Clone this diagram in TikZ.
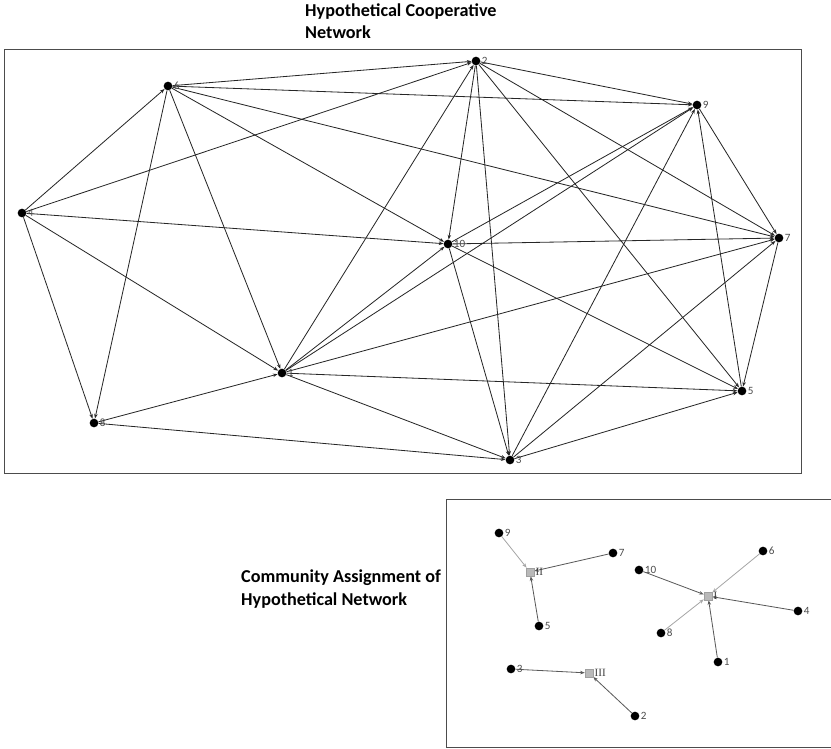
\documentclass[tikz,border=0pt]{standalone}
\usepackage{fontspec}
\setmainfont{Carlito}
\newfontfamily\romanfont{Liberation Serif}
\usetikzlibrary{arrows.meta, positioning, backgrounds}

\begin{document}
\begin{tikzpicture}[
    x=0.03cm, y=-0.03cm,
    dot/.style={circle, fill=black, minimum size=0.26cm, inner sep=0pt},
    com/.style={rectangle, fill=gray!55, draw=gray!75, minimum size=0.24cm, inner sep=0pt},
    lab/.style={font=\fontsize{9.5}{9.5}\selectfont, text=black!70, inner sep=1pt},
    rlab/.style={font=\romanfont\fontsize{9.5}{9.5}\selectfont, text=black!75, inner sep=1pt},
    title/.style={font=\fontsize{15.5}{19}\selectfont\bfseries, align=left, anchor=north west, inner sep=0pt},
    arr/.style={-{Stealth[length=4pt, width=3pt]}, line width=0.7pt, black!85},
    darr/.style={-{Stealth[length=4pt, width=3pt]}, line width=0.7pt, black!65},
    larr/.style={-{Stealth[length=4pt, width=3pt]}, line width=0.7pt, black!35}
]
\useasboundingbox (0,0) rectangle (831,749);

% Cooperative network
\node[title] (toptitle) at (305,3) {Hypothetical Cooperative\\Network};
\draw[black!70, line width=0.8pt] (4,49) rectangle (801,473);

\node[dot, label={[lab]right:1}]  (n1)  at (282,373) {};
\node[dot, label={[lab]right:2}]  (n2)  at (476,61) {};
\node[dot, label={[lab]right:3}]  (n3)  at (510,460) {};
\node[dot, label={[lab]right:4}]  (n4)  at (22,213) {};
\node[dot, label={[lab]right:5}]  (n5)  at (742,391) {};
\node[dot, label={[lab]right:6}]  (n6)  at (168,86) {};
\node[dot, label={[lab]right:7}]  (n7)  at (779,238) {};
\node[dot, label={[lab]right:8}]  (n8)  at (94,423) {};
\node[dot, label={[lab]right:9}]  (n9)  at (697,105) {};
\node[dot, label={[lab]right:10}] (n10) at (448,244) {};

% Ties
\begin{scope}[on background layer]
\foreach \i/\j in {n4/n6, n4/n2, n4/n10, n4/n8, n4/n1,
                   n6/n2, n6/n9, n6/n7, n6/n10, n6/n1, n6/n8,
                   n8/n1, n8/n3,
                   n1/n2, n1/n10, n1/n9, n1/n7, n1/n5, n1/n3,
                   n2/n10, n2/n3, n2/n5, n2/n7, n2/n9,
                   n10/n9, n10/n7, n10/n5, n10/n3,
                   n3/n9, n3/n7, n3/n5,
                   n9/n7, n5/n9, n7/n5}
    \draw[arr] (\i) -- (\j);
\end{scope}

% Community assignment
\node[title] (bottitle) at (241,570) {Community Assignment of\\Hypothetical Network};
\draw[black!70, line width=0.8pt] (831,499) -- (446,499) -- (446,747) -- (831,747);

\node[com, label={[rlab]right:I}]   (cI)   at (708,596) {};
\node[com, label={[rlab]right:II}]  (cII)  at (530,572) {};
\node[com, label={[rlab]right:III}] (cIII) at (589,673) {};

\node[dot, label={[lab]right:1}]  (c1)  at (718,662) {};
\node[dot, label={[lab]right:2}]  (c2)  at (635,716) {};
\node[dot, label={[lab]right:3}]  (c3)  at (511,669) {};
\node[dot, label={[lab]right:4}]  (c4)  at (798,611) {};
\node[dot, label={[lab]right:5}]  (c5)  at (539,626) {};
\node[dot, label={[lab]right:6}]  (c6)  at (763,551) {};
\node[dot, label={[lab]right:7}]  (c7)  at (613,553) {};
\node[dot, label={[lab]right:8}]  (c8)  at (661,633) {};
\node[dot, label={[lab]right:9}]  (c9)  at (499,533) {};
\node[dot, label={[lab]right:10}] (c10) at (639,570) {};

% Memberships
\begin{scope}[on background layer]
\foreach \i/\j in {c5/cII, c7/cII, c10/cI, c1/cI, c4/cI, c3/cIII, c2/cIII}
    \draw[darr] (\i) -- (\j);
\foreach \i/\j in {c9/cII, c6/cI, c8/cI}
    \draw[larr] (\i) -- (\j);
\end{scope}

\end{tikzpicture}
\end{document}
